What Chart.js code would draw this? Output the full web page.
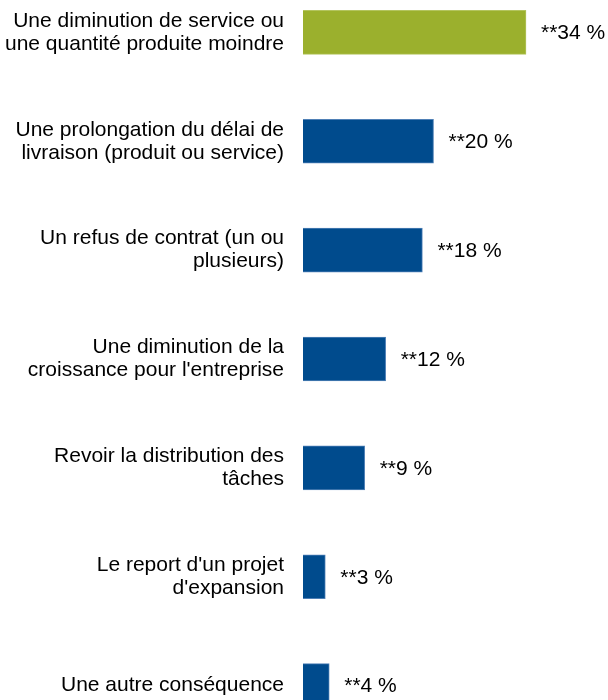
<!DOCTYPE html>
<html>
<head>
<meta charset="utf-8">
<script src="https://cdn.jsdelivr.net/npm/chart.js@4.4.1/dist/chart.umd.min.js"></script>
<style>
  html, body { margin: 0; padding: 0; background: #fff; overflow: hidden; width: 608px; height: 700px; }
  #wrap { position: absolute; left: 0; top: -22px; width: 608px; height: 762px; }
</style>
</head>
<body>
<div id="wrap"><canvas id="chart"></canvas></div>
<script>
// categories (multi-line labels)
var categories = [
  ['Une diminution de service ou', 'une quantité produite moindre'],
  ['Une prolongation du délai de', 'livraison (produit ou service)'],
  ['Un refus de contrat (un ou', 'plusieurs)'],
  ['Une diminution de la', "croissance pour l'entreprise"],
  ['Revoir la distribution des', 'tâches'],
  ["Le report d'un projet", "d'expansion"],
  ['Une autre conséquence']
];
// bar lengths
var values = [34, 19.9, 18.2, 12.6, 9.4, 3.4, 4.0];
// printed labels
var valueLabels = ['**34 %', '**20 %', '**18 %', '**12 %', '**9 %', '**3 %', '**4 %'];
var barColors = ['#9BB02D', '#004B8D', '#004B8D', '#004B8D', '#004B8D', '#004B8D', '#004B8D'];
var borderColors = ['#B3C45E', '#4F80B6', '#4F80B6', '#4F80B6', '#4F80B6', '#4F80B6', '#4F80B6'];

var FONT = 'Liberation Sans, Arial, sans-serif';

// draw the "**xx %" text at the end of each bar
var valueLabelPlugin = {
  id: 'valueLabels',
  afterDatasetsDraw: function(chart) {
    var ctx = chart.ctx;
    var meta = chart.getDatasetMeta(0);
    ctx.save();
    ctx.font = '21px ' + FONT;
    ctx.fillStyle = '#000';
    ctx.textAlign = 'left';
    ctx.textBaseline = 'middle';
    meta.data.forEach(function(bar, i) {
      ctx.fillText(valueLabels[i], bar.x + 15, bar.y + 1);
    });
    ctx.restore();
  }
};

new Chart(document.getElementById('chart'), {
  type: 'bar',
  data: {
    labels: categories,
    datasets: [{
      data: values,
      backgroundColor: barColors,
      borderColor: borderColors,
      borderWidth: 1,
      barThickness: 44
    }]
  },
  options: {
    indexAxis: 'y',
    responsive: true,
    maintainAspectRatio: false,
    animation: false,
    layout: { padding: 0 },
    plugins: {
      legend: { display: false },
      tooltip: { enabled: false }
    },
    scales: {
      x: {
        display: false,
        min: 0,
        max: 46.5
      },
      y: {
        grid: { display: false },
        border: { display: false },
        ticks: {
          color: '#000',
          padding: 11,
          font: { family: FONT, size: 21, lineHeight: 1.1 }
        },
        afterFit: function(scale) {
          scale.width = 303;
          scale.paddingTop = 0;
          scale.paddingBottom = 0;
        }
      }
    }
  },
  plugins: [valueLabelPlugin]
});
</script>
</body>
</html>
